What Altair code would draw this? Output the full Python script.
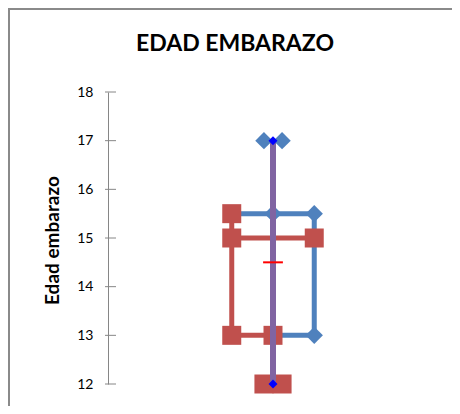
import altair as alt
import pandas as pd

# ---- data ----
y_ticks = [12, 13, 14, 15, 16, 17, 18]

# blue series (line + diamond markers)
blue_line_x = [1.5, 2.5, 2.5, 2.0]
blue_line_y = [15.5, 15.5, 13, 13]
blue_pt_x = [2.0, 2.5, 2.5, 1.89, 2.11]
blue_pt_y = [15.5, 15.5, 13, 17, 17]

# red series (segments + square markers)
red_seg_x1 = [1.5, 1.5, 1.5]
red_seg_x2 = [1.5, 2.5, 2.0]
red_seg_y1 = [15.5, 15, 13]
red_seg_y2 = [13, 15, 13]
red_pt_x = [1.5, 1.5, 2.5, 1.5, 2.0, 1.89, 2.11]
red_pt_y = [15.5, 15, 15, 13, 13, 12, 12]

# whisker (purple) and its end points
whisker_x = [2.0]
whisker_top = [17]
whisker_bottom = [12]
end_x = [2.0, 2.0]
end_y = [17, 12]

# mean mark
mean_x1 = [1.88]
mean_x2 = [2.12]
mean_y = [14.5]

BLUE = "#4F81BD"
RED = "#C0504D"
PURPLE = "#8064A2"
GRAY = "#868686"
FONT = "Lato"

xs = alt.Scale(domain=[0, 4], nice=False, zero=False)
ys = alt.Scale(domain=[12, 18], nice=False, zero=False)

blue_line_df = pd.DataFrame({"x": blue_line_x, "y": blue_line_y, "o": range(len(blue_line_x))})
blue_pt_df = pd.DataFrame({"x": blue_pt_x, "y": blue_pt_y})
red_seg_df = pd.DataFrame({"x": red_seg_x1, "x2": red_seg_x2, "y": red_seg_y1, "y2": red_seg_y2})
red_pt_df = pd.DataFrame({"x": red_pt_x, "y": red_pt_y})
whisk_df = pd.DataFrame({"x": whisker_x, "y": whisker_top, "y2": whisker_bottom})
end_df = pd.DataFrame({"x": end_x, "y": end_y})
mean_df = pd.DataFrame({"x": mean_x1, "x2": mean_x2, "y": mean_y})
tick_df = pd.DataFrame({"y": y_ticks})

yaxis = alt.Axis(
    title="Edad embarazo", values=y_ticks, ticks=False, tickSize=0, grid=False,
    domainColor=GRAY, domainWidth=1, labelFont=FONT, labelFontSize=14,
    labelColor="black", labelPadding=15,
    titleFont=FONT, titleFontSize=19, titleFontWeight="bold", titleColor="black",
    titleAngle=270, titleX=-56, titleY=148, titleAlign="center", titleBaseline="middle",
)

axis_layer = alt.Chart(tick_df).mark_rule(color=GRAY, strokeWidth=1).encode(
    y=alt.Y("y:Q", scale=ys, axis=yaxis),
    x=alt.value(-3), x2=alt.value(8),
)

frame_left = alt.Chart(tick_df.head(1)).mark_rule(color="#8A8A8A", strokeWidth=2, clip=False).encode(
    x=alt.value(-99), y=alt.value(-83), y2=alt.value(314)
)
frame_top = alt.Chart(tick_df.head(1)).mark_rule(color="#8A8A8A", strokeWidth=2, clip=False).encode(
    y=alt.value(-83), x=alt.value(-100), x2=alt.value(344)
)

blue_line = alt.Chart(blue_line_df).mark_line(color=BLUE, strokeWidth=5).encode(
    x=alt.X("x:Q", scale=xs, axis=None), y=alt.Y("y:Q", scale=ys), order="o:Q"
)
blue_pts = alt.Chart(blue_pt_df).mark_point(shape="diamond", filled=True, size=300, color=BLUE, opacity=1).encode(
    x=alt.X("x:Q", scale=xs, axis=None), y=alt.Y("y:Q", scale=ys)
)
red_segs = alt.Chart(red_seg_df).mark_rule(color=RED, strokeWidth=5).encode(
    x=alt.X("x:Q", scale=xs, axis=None), x2="x2:Q", y=alt.Y("y:Q", scale=ys), y2="y2:Q"
)
red_pts = alt.Chart(red_pt_df).mark_point(shape="square", filled=True, size=361, color=RED, opacity=1).encode(
    x=alt.X("x:Q", scale=xs, axis=None), y=alt.Y("y:Q", scale=ys)
)
whisker = alt.Chart(whisk_df).mark_rule(color=PURPLE, strokeWidth=6).encode(
    x=alt.X("x:Q", scale=xs, axis=None), y=alt.Y("y:Q", scale=ys), y2="y2:Q"
)
ends = alt.Chart(end_df).mark_point(shape="diamond", filled=True, size=80, color="#0000FF", opacity=1).encode(
    x=alt.X("x:Q", scale=xs, axis=None), y=alt.Y("y:Q", scale=ys)
)
mean = alt.Chart(mean_df).mark_rule(color="#FF0000", strokeWidth=2).encode(
    x=alt.X("x:Q", scale=xs, axis=None), x2="x2:Q", y=alt.Y("y:Q", scale=ys)
)

chart = alt.layer(
    frame_left, frame_top, axis_layer, blue_line, blue_pts, red_segs, red_pts, whisker, ends, mean
).properties(
    width=330, height=292,
    background="white",
    title=alt.TitleParams("EDAD EMBARAZO", font=FONT, fontSize=23, fontWeight="bold", color="black",
                          anchor="middle", frame="group", dx=-38, offset=-66, baseline="alphabetic"),
    padding={"left": 100, "top": 84, "right": 14, "bottom": 22},
    autosize=alt.AutoSizeParams(type="none"),
).configure_view(strokeWidth=0, stroke="transparent")

chart.save("out.html", embed_options={"renderer": "svg", "actions": False})
